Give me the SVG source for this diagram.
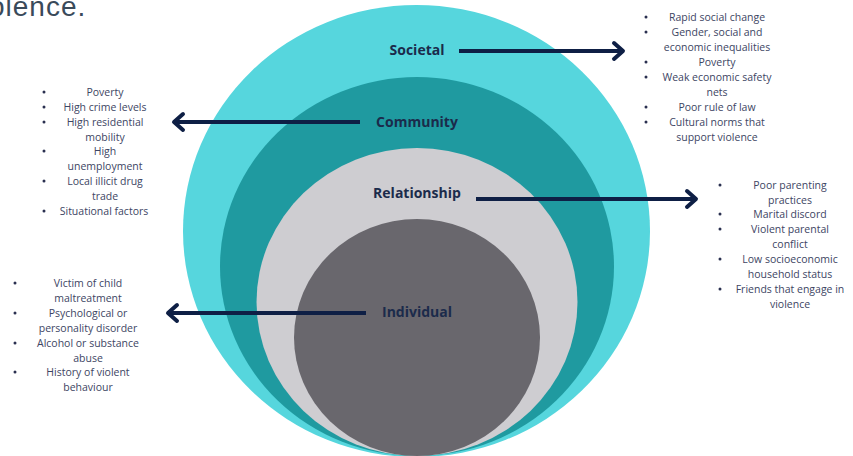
<svg xmlns="http://www.w3.org/2000/svg" width="853" height="456" viewBox="0 0 853 456">
<style>
.lbl{font-family:"Open Sans","Noto Sans",sans-serif;font-weight:700;font-size:14px;fill:#1b2b4b;text-anchor:middle}
.li{font-family:"Open Sans","Noto Sans",sans-serif;font-size:10.5px;fill:#3d4563;text-anchor:middle}
.bul{fill:#2a3050}
.conn{stroke:#0e1f45;stroke-width:4;fill:none;marker-end:url(#chev)}
</style>
<defs>
<marker id="chev" markerUnits="userSpaceOnUse" viewBox="-14 -12 18 24" markerWidth="18" markerHeight="24" refX="0" refY="0" orient="auto" overflow="visible">
<path d="M -9 -8 L 0 0 L -9 8" fill="none" stroke="#0e1f45" stroke-width="4" stroke-linecap="round" stroke-linejoin="round"/>
</marker>
</defs>
<rect width="853" height="456" fill="#ffffff"/>
<text x="-11" y="15.5" font-family="Liberation Sans, Arial, sans-serif" font-size="28" letter-spacing="1" fill="#3a4a5a">olence.</text>

<g id="societal"><ellipse cx="416.5" cy="231" rx="233.5" ry="226" fill="#56d6dd"/></g>
<g id="community"><ellipse cx="417" cy="266.5" rx="197" ry="189.5" fill="#1f9aa0"/></g>
<g id="relationship"><ellipse cx="417" cy="302" rx="160.5" ry="154" fill="#cecdd1"/></g>
<g id="individual"><ellipse cx="417" cy="337.5" rx="123" ry="118.5" fill="#69676d"/></g>

<g id="labels">
<text class="lbl" x="417" y="55">Societal</text>
<text class="lbl" x="417" y="127">Community</text>
<text class="lbl" x="417" y="198">Relationship</text>
<text class="lbl" x="417" y="317">Individual</text>
</g>

<g id="connectors">
<line class="conn" x1="459" y1="51" x2="623" y2="51"/>
<line class="conn" x1="360" y1="122" x2="174" y2="122"/>
<line class="conn" x1="476" y1="199" x2="696" y2="199"/>
<line class="conn" x1="366" y1="313" x2="168" y2="313"/>
</g>

<g id="societal-list">
<circle class="bul" cx="646" cy="17" r="1.5"/><circle class="bul" cx="646" cy="32" r="1.5"/><circle class="bul" cx="646" cy="62" r="1.5"/><circle class="bul" cx="646" cy="77" r="1.5"/><circle class="bul" cx="646" cy="107" r="1.5"/><circle class="bul" cx="646" cy="122" r="1.5"/>
<text class="li" x="717" y="21">Rapid social change</text>
<text class="li" x="717" y="36">Gender, social and</text>
<text class="li" x="717" y="51">economic inequalities</text>
<text class="li" x="717" y="66">Poverty</text>
<text class="li" x="717" y="81">Weak economic safety</text>
<text class="li" x="717" y="96">nets</text>
<text class="li" x="717" y="111">Poor rule of law</text>
<text class="li" x="717" y="126">Cultural norms that</text>
<text class="li" x="717" y="141">support violence</text>
</g>

<g id="community-list">
<circle class="bul" cx="44" cy="92" r="1.5"/><circle class="bul" cx="44" cy="107" r="1.5"/><circle class="bul" cx="44" cy="122" r="1.5"/><circle class="bul" cx="44" cy="151" r="1.5"/><circle class="bul" cx="44" cy="181" r="1.5"/><circle class="bul" cx="44" cy="211" r="1.5"/>
<text class="li" x="105" y="96">Poverty</text>
<text class="li" x="105" y="111">High crime levels</text>
<text class="li" x="105" y="126">High residential</text>
<text class="li" x="105" y="141">mobility</text>
<text class="li" x="105" y="155">High</text>
<text class="li" x="105" y="170">unemployment</text>
<text class="li" x="105" y="185">Local illicit drug</text>
<text class="li" x="105" y="200">trade</text>
<text class="li" x="104" y="215">Situational factors</text>
</g>

<g id="relationship-list">
<circle class="bul" cx="720" cy="185" r="1.5"/><circle class="bul" cx="720" cy="214" r="1.5"/><circle class="bul" cx="720" cy="229" r="1.5"/><circle class="bul" cx="720" cy="259" r="1.5"/><circle class="bul" cx="720" cy="289" r="1.5"/>
<text class="li" x="790" y="189">Poor parenting</text>
<text class="li" x="790" y="204">practices</text>
<text class="li" x="790" y="218">Marital discord</text>
<text class="li" x="790" y="233">Violent parental</text>
<text class="li" x="790" y="248">conflict</text>
<text class="li" x="790" y="263">Low socioeconomic</text>
<text class="li" x="790" y="278">household status</text>
<text class="li" x="790" y="293">Friends that engage in</text>
<text class="li" x="790" y="308">violence</text>
</g>

<g id="individual-list">
<circle class="bul" cx="15" cy="283" r="1.5"/><circle class="bul" cx="15" cy="313" r="1.5"/><circle class="bul" cx="15" cy="343" r="1.5"/><circle class="bul" cx="15" cy="372" r="1.5"/>
<text class="li" x="88" y="287">Victim of child</text>
<text class="li" x="88" y="302">maltreatment</text>
<text class="li" x="88" y="317">Psychological or</text>
<text class="li" x="88" y="332">personality disorder</text>
<text class="li" x="88" y="347">Alcohol or substance</text>
<text class="li" x="88" y="362">abuse</text>
<text class="li" x="88" y="376">History of violent</text>
<text class="li" x="88" y="391">behaviour</text>
</g>
</svg>
